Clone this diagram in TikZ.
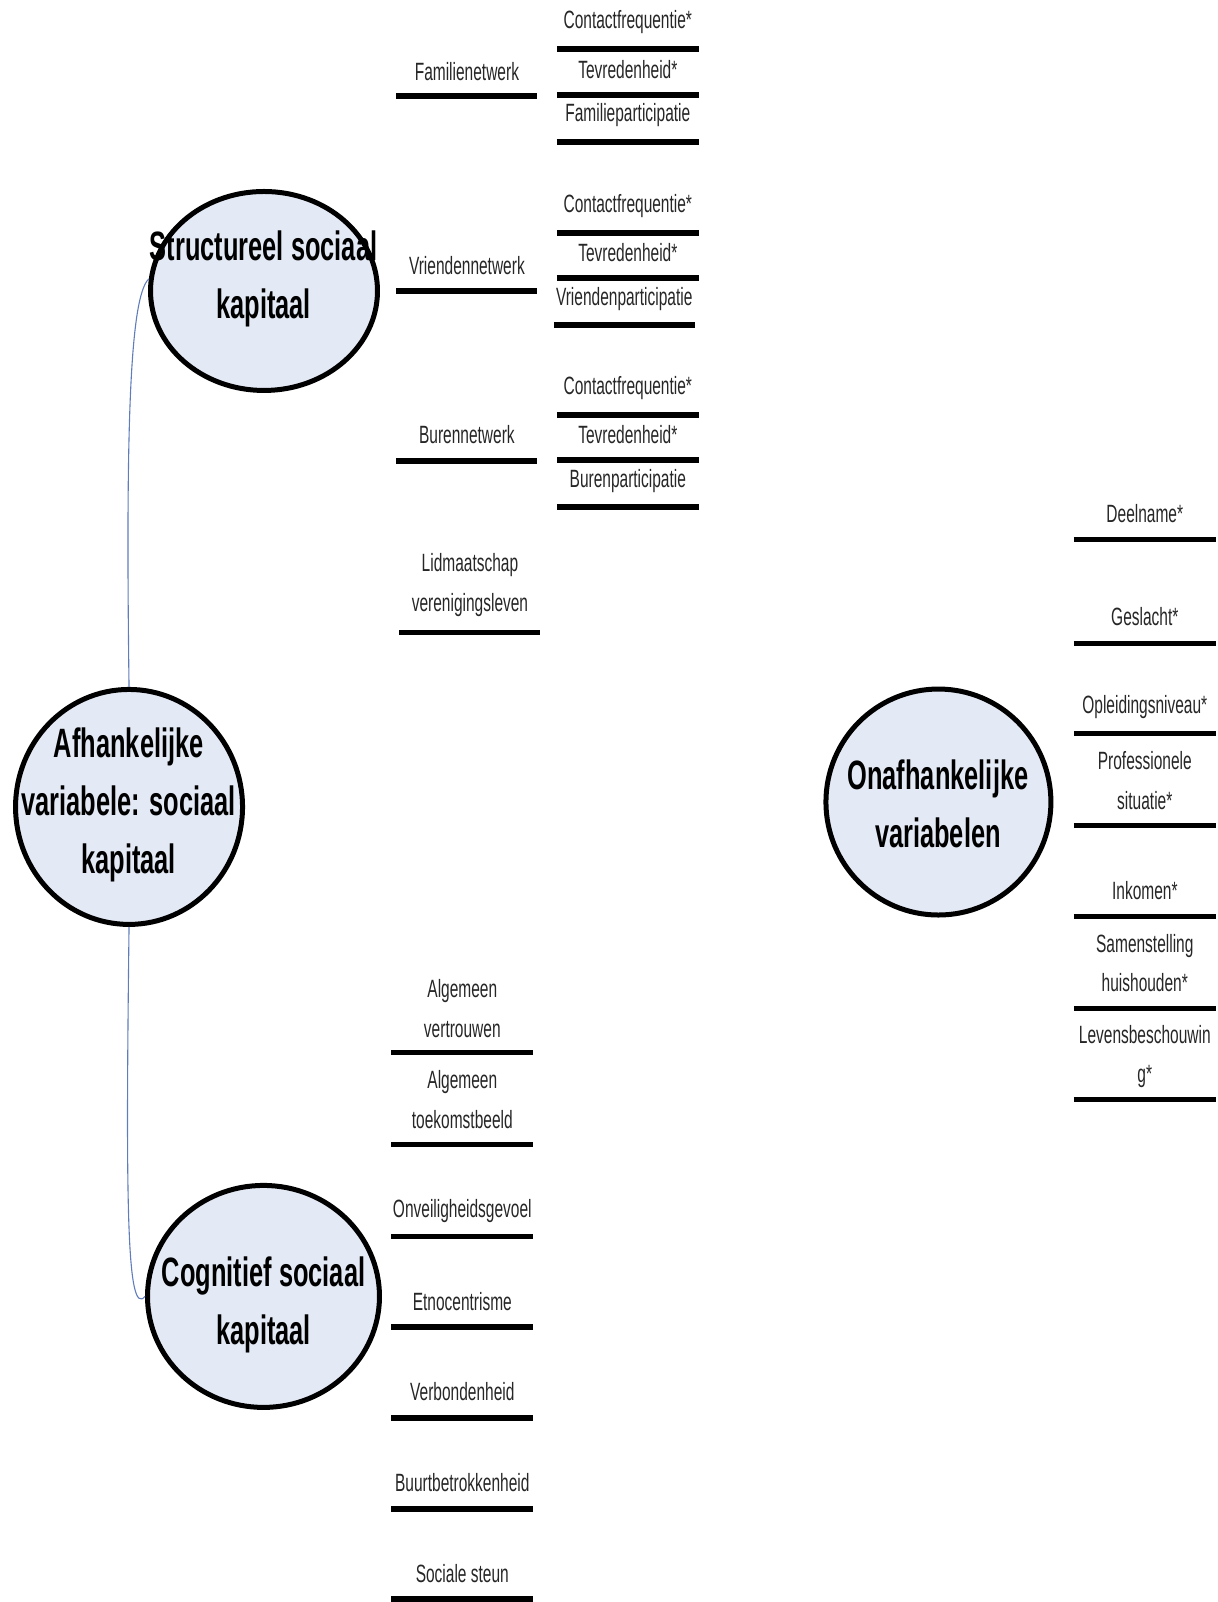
\documentclass[tikz,border=0pt]{standalone}
\usepackage{fontspec}
\setmainfont{Liberation Sans}[FakeStretch=0.62]
\usetikzlibrary{shapes.geometric}
\definecolor{ellfill}{RGB}{228,234,245}
\definecolor{linkblue}{RGB}{96,124,186}

% one variable: text above a thick bar
% #1 name, #2 left x, #3 right x, #4 text y, #5 bar y, #6 text
\newcommand\varbar[6]{%
  \node[lbl] (#1) at ({(#2+#3)/2},#4) {#6};
  \draw[bar] (#2,#5) -- (#3,#5);
}

\begin{document}
\begin{tikzpicture}[x=1.02181pt, y=-1.02181pt,
  concept/.style={ellipse, draw=black, line width=5pt, fill=ellfill, inner sep=0pt},
  ctext/.style={align=center, inner sep=0pt, font=\fontsize{41}{58}\selectfont\bfseries},
  lbl/.style={align=center, inner sep=0pt, font=\fontsize{25}{39.5}\selectfont, text=black!85},
  bar/.style={line width=5.5pt, black},
  link/.style={draw=linkblue, line width=1.1pt}]

\useasboundingbox (0,0) rectangle (1192,1568);

% main concepts
\node[concept, minimum width=227pt, minimum height=199pt] (struct) at (258.4,284.8) {};
\node[concept, minimum width=227pt, minimum height=235pt] (afh) at (126.3,789.8) {};
\node[concept, minimum width=232pt, minimum height=222pt] (cog) at (257.9,1268.9) {};
\node[concept, minimum width=225pt, minimum height=226pt] (onafh) at (918.5,785) {};

% links from the dependent variable to its two parts
\draw[link] (afh.north) .. controls (123,420) and (127,290) .. (struct.174);
\draw[link] (afh.south) .. controls (123,1180) and (124,1290) .. (cog.west);

\node[ctext] (structtxt) at (258,273) {Structureel sociaal\\kapitaal};
\node[ctext] (afhtxt) at (126,788) {Afhankelijke\\variabele: sociaal\\kapitaal};
\node[ctext] (cogtxt) at (258,1277) {Cognitief sociaal\\kapitaal};
\node[ctext] (onafhtxt) at (918,787) {Onafhankelijke\\variabelen};

% structural social capital: networks
\varbar{fam}{388}{526}{70}{94}{Familienetwerk}
\varbar{vri}{388}{526}{260}{285}{Vriendennetwerk}
\varbar{bur}{388}{526}{425}{451}{Burennetwerk}
\varbar{lid}{391}{529}{572.5}{619}{Lidmaatschap\\verenigingsleven}

% indicators per network
\varbar{fam1}{545}{684}{22}{48}{Contactfrequentie*}
\varbar{fam2}{545}{684}{68}{93}{Tevredenheid*}
\varbar{fam3}{545}{684}{113}{139}{Familieparticipatie}
\varbar{vri1}{545}{684}{202}{228}{Contactfrequentie*}
\varbar{vri2}{545}{684}{247}{272}{Tevredenheid*}
\varbar{vri3}{542}{680}{293}{318}{Vriendenparticipatie}
\varbar{bur1}{545}{684}{380}{406}{Contactfrequentie*}
\varbar{bur2}{545}{684}{425}{450}{Tevredenheid*}
\varbar{bur3}{545}{684}{471}{496}{Burenparticipatie}

% cognitive social capital
\varbar{alg1}{383}{522}{987}{1030}{Algemeen\\vertrouwen}
\varbar{alg2}{383}{522}{1076}{1120}{Algemeen\\toekomstbeeld}
\varbar{onv}{383}{522}{1185}{1210}{Onveiligheidsgevoel}
\varbar{etn}{383}{522}{1274}{1299}{Etnocentrisme}
\varbar{ver}{383}{522}{1362}{1388}{Verbondenheid}
\varbar{buu}{383}{522}{1451}{1477}{Buurtbetrokkenheid}
\varbar{soc}{383}{522}{1540}{1565}{Sociale steun}

% independent variables
\varbar{dee}{1051}{1190}{503}{528}{Deelname*}
\varbar{ges}{1051}{1190}{603}{630}{Geslacht*}
\varbar{opl}{1051}{1190}{692}{718}{Opleidingsniveau*}
\varbar{pro}{1051}{1190}{764}{808}{Professionele\\situatie*}
\varbar{ink}{1051}{1190}{872}{897}{Inkomen*}
\varbar{sam}{1051}{1190}{942.5}{987}{Samenstelling\\huishouden*}
\varbar{lev}{1051}{1190}{1034}{1076}{Levensbeschouwin\\g*}

\end{tikzpicture}
\end{document}
